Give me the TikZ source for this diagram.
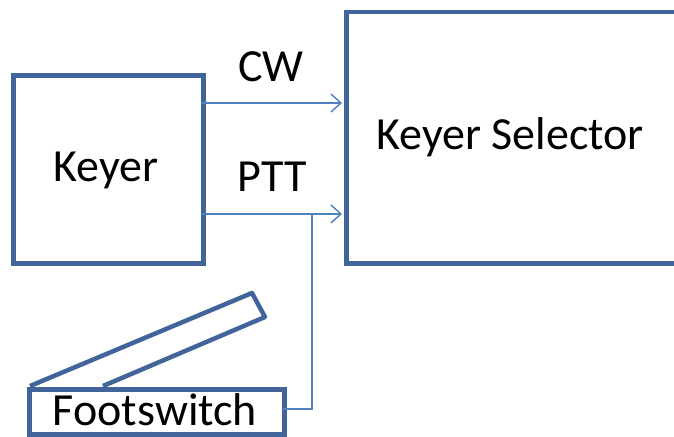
\documentclass[tikz,border=0pt]{standalone}
\usepackage{fontspec}
\setmainfont{Carlito}
\usetikzlibrary{arrows.meta}
\definecolor{boxblue}{HTML}{41659A}
\definecolor{linkblue}{HTML}{4F81BD}
\begin{document}
\begin{tikzpicture}[x=1pt,y=-1pt,
  blk/.style={draw=boxblue,line width=4.5pt,fill=white,inner sep=0pt},
  lbl/.style={font=\fontsize{46}{50}\selectfont,inner sep=0pt},
  link/.style={draw=linkblue,line width=1.4pt},
  arr/.style={link,-{Straight Barb[length=10pt,width=18pt,line width=1.4pt]}}]
\useasboundingbox (0,0) rectangle (674,436);
\clip (0,0) rectangle (674,436);
\node[blk,minimum width=190pt,minimum height=188pt,anchor=north west] (keyer) at (11,73) {};
\node[lbl] (keyertxt) at (106,170) {Keyer};
\node[blk,minimum width=360pt,minimum height=251pt,anchor=north west] (sel) at (344,10) {};
\node[lbl] (seltxt) at (510,137) {Keyer Selector};
\node[blk,minimum width=255pt,minimum height=45pt,anchor=north west] (foot) at (27,387) {};
\node[lbl] (foottxt) at (155,410) {Footswitch};
\draw[boxblue,line width=4.5pt,line join=round] (30,386) -- (252,293) -- (265,317) -- (103,386);
\node[lbl] (cw) at (271,67) {CW};
\node[lbl] (ptt) at (272,177) {PTT};
\coordinate (cwS) at (201,103);
\coordinate (cwE) at (342,103);
\coordinate (ptS) at (201,214);
\coordinate (ptE) at (342,214);
\coordinate (fsOut) at (283,409);
\coordinate (bend) at (312,409);
\coordinate (join) at (312,214);
\draw[arr] (cwS) -- (cwE);
\draw[arr] (ptS) -- (ptE);
\draw[link] (fsOut) -- (bend) -- (join);
\end{tikzpicture}
\end{document}
